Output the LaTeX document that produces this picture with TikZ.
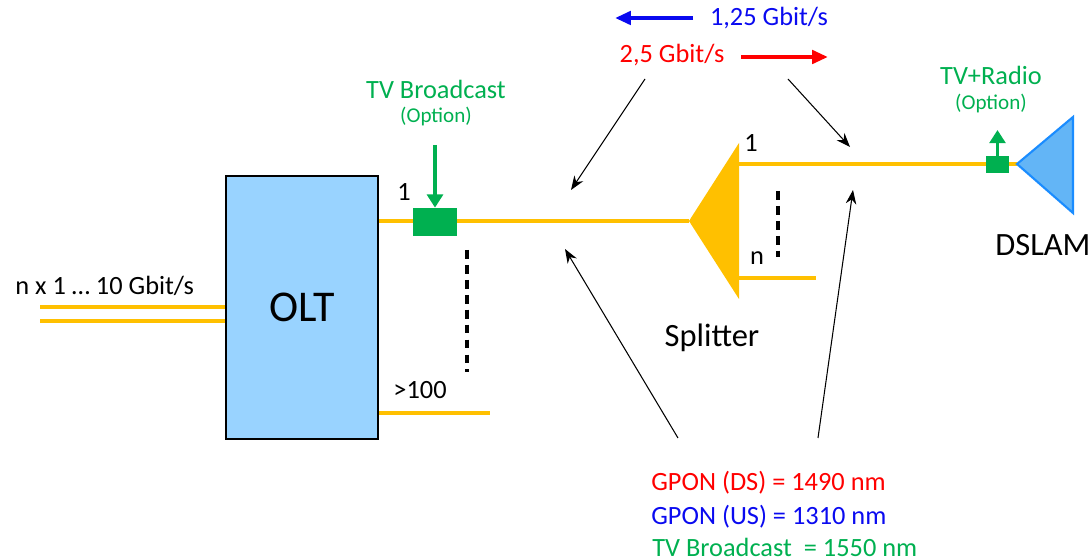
\documentclass[tikz,border=0pt]{standalone}
\usepackage{fontspec}
\setmainfont{Carlito}
\usetikzlibrary{arrows.meta}
\definecolor{fiberyellow}{HTML}{FFC000}
\definecolor{optgreen}{HTML}{00B050}
\definecolor{oltblue}{HTML}{99D3FF}
\definecolor{dslamblue}{HTML}{63B5F6}
\definecolor{dslamline}{HTML}{1A8CFF}
\definecolor{rateblue}{HTML}{0A0AF0}
\definecolor{ratered}{HTML}{FF0000}

\begin{document}
\begin{tikzpicture}[x=0.02cm,y=-0.02cm,
    fiberline/.style={line width=2.8pt,fiberyellow},
    oltbox/.style={draw=black,line width=1.1pt,fill=oltblue,minimum width=3.04cm,minimum height=5.26cm,font=\fontsize{25}{30}\selectfont},
    coupler/.style={fill=optgreen,inner sep=0pt},
    optarrow/.style={line width=2.2pt,optgreen,-{Triangle[length=7.5pt,width=9pt]}},
    ratearrow/.style={line width=2.6pt,-{Triangle[length=9pt,width=7.5pt]}},
    pointer/.style={line width=0.6pt,-{Stealth[length=8pt,width=6pt]}},
    portdash/.style={line width=1.8pt,dash pattern=on 5pt off 3.5pt},
    txt/.style={font=\fontsize{15}{18}\selectfont,inner sep=0pt},
    smalltxt/.style={font=\fontsize{12}{14}\selectfont,inner sep=0pt},
    bigtxt/.style={font=\fontsize{18.5}{22}\selectfont,inner sep=0pt}]

    \useasboundingbox (0,0) rectangle (1090,560);

    % OLT box
    \node[oltbox] (olt) at (302,307.5) {OLT};

    % uplinks into the OLT
    \coordinate (upa) at (40,307);
    \coordinate (upb) at (40,321);
    \draw[fiberline] (upa) -- (upa -| olt.west);
    \draw[fiberline] (upb) -- (upb -| olt.west);
    \node[txt,anchor=west] (uplabel) at (15,286) {n x 1 … 10 Gbit/s};

    % PON ports 1 ... >100
    \coordinate (sptip) at (689,221);
    \coordinate (lastend) at (490,413);
    \draw[fiberline] (olt.east |- sptip) -- (sptip);
    \draw[fiberline] (olt.east |- lastend) -- (lastend);
    \draw[portdash] (467,250) -- (467,372);
    \node[txt] (oltport1) at (404,192) {1};
    \node[txt] (oltportn) at (420,390) {>100};

    % splitter
    \coordinate (sp1) at (739,164);
    \coordinate (spn) at (739,278);
    \coordinate (spnend) at (816,278);
    \coordinate (dtip) at (1017,164);
    \fill[fiberyellow] (sptip) -- (739,143) -- (739,299) -- cycle;
    \draw[fiberline] (sp1) -- (dtip);
    \draw[fiberline] (spn) -- (spnend);
    \draw[portdash] (778,191) -- (778,257);
    \node[txt] (splitport1) at (751,143) {1};
    \node[txt] (splitportn) at (757,258) {n};
    \node[bigtxt] (splitlabel) at (712,338) {Splitter};

    % DSLAM
    \filldraw[fill=dslamblue,draw=dslamline,line width=1.2pt] (dtip) -- (1073,117) -- (1073,213) -- cycle;
    \node[bigtxt,anchor=west] (dslamlabel) at (995,245) {DSLAM};

    % TV overlay couplers
    \node[coupler,minimum width=0.88cm,minimum height=0.56cm] (tvcoupler) at (435,222) {};
    \node[coupler,minimum width=0.46cm,minimum height=0.34cm] (radiocoupler) at (997.5,164.5) {};
    \coordinate (tvin) at (435,145);
    \coordinate (radioout) at (997.5,130);
    \draw[optarrow] (tvin) -- (tvcoupler.north);
    \draw[optarrow] (radiocoupler.north) -- (radioout);
    \node[txt,optgreen] (tvlabel) at (436,89) {TV Broadcast};
    \node[smalltxt,optgreen] (tvoption) at (436,116) {(Option)};
    \node[txt,optgreen] (radiolabel) at (991,75) {TV+Radio};
    \node[smalltxt,optgreen] (radiooption) at (991,103) {(Option)};

    % bit rates
    \coordinate (usstart) at (693,18);
    \coordinate (usend) at (615,18);
    \coordinate (dsstart) at (741,57);
    \coordinate (dsend) at (828,57);
    \draw[ratearrow,rateblue] (usstart) -- (usend);
    \draw[ratearrow,ratered] (dsstart) -- (dsend);
    \node[txt,rateblue] (usrate) at (769,18) {1,25 Gbit/s};
    \node[txt,ratered] (dsrate) at (672,55) {2,5 Gbit/s};

    % pointers to the fibres
    \coordinate (ptra) at (645,79);
    \coordinate (ptrb) at (788,79);
    \coordinate (ptrc) at (678,438);
    \coordinate (ptrd) at (818,438);
    \coordinate (feeder1) at (571,190);
    \coordinate (drop1) at (850,147);
    \coordinate (feeder2) at (565,249);
    \coordinate (drop2) at (853,190);
    \draw[pointer] (ptra) -- (feeder1);
    \draw[pointer] (ptrb) -- (drop1);
    \draw[pointer] (ptrc) -- (feeder2);
    \draw[pointer] (ptrd) -- (drop2);

    % wavelengths
    \node[txt,ratered,anchor=west] (dslegend) at (651,483) {GPON (DS) = 1490 nm};
    \node[txt,rateblue,anchor=west] (uslegend) at (651,517) {GPON (US) = 1310 nm};
    \node[txt,optgreen,anchor=west] (tvlegend) at (652,547) {TV Broadcast \ = 1550 nm};

\end{tikzpicture}
\end{document}
